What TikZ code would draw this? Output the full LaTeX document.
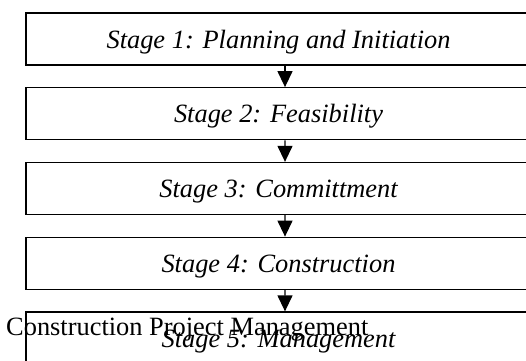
\documentclass[tikz,border=0pt]{standalone}
\usepackage{fontspec}
\setmainfont{Liberation Serif}
\usetikzlibrary{trees,arrows.meta}

\tikzset{stagebox/.style={draw,line width=1.3pt,rectangle,minimum width=505pt,minimum height=52pt,text height=24pt,text depth=6pt,font=\fontsize{26.4}{30}\selectfont\itshape}}

\begin{document}
\begin{tikzpicture}[level distance=74.75pt,every child node/.style={stagebox},
	edge from parent/.style={draw,line width=1.3pt,-{Triangle[length=16pt,width=15pt]}},
	edge from parent path={([xshift=6.5pt]\tikzparentnode.south) -- ([xshift=6.5pt]\tikzchildnode.north)}]
	\useasboundingbox (0,0) rectangle (526pt,360pt);
	\node[stagebox] (plan) at (278.5pt,321pt) {Stage 1: Planning and Initiation}
		child { node (feas) {Stage 2: Feasibility}
			child { node (commit) {Stage 3: Committment}
				child { node (constr) {Stage 4: Construction}
					child { node (manage) {Stage 5: Management} }
				}
			}
		};
	\node[anchor=base west,inner sep=0pt,font=\fontsize{26.4}{30}\selectfont] (title) at (6pt,25pt) {Construction Project Management};
\end{tikzpicture}
\end{document}
